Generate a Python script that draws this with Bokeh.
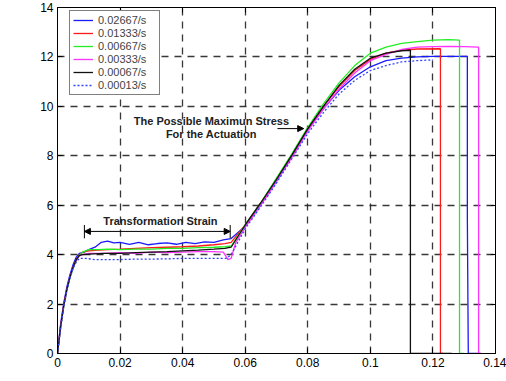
from math import pi

from bokeh.plotting import figure
from bokeh.models import (Arrow, NormalHead, Label, LinearAxis, FixedTicker,
                          Legend, LegendItem)
from bokeh.embed import file_html
from bokeh.resources import INLINE

# ---- stress-strain curves (stress in 100 MPa) ----
rate_labels = ["0.02667/s", "0.01333/s", "0.00667/s", "0.00333/s", "0.00067/s", "0.00013/s"]

strain_a = [0, 0.001, 0.002, 0.003, 0.004, 0.005, 0.006, 0.007, 0.0085, 0.010, 0.012, 0.014,
            0.016, 0.018, 0.020, 0.023, 0.026, 0.029, 0.032, 0.035, 0.038, 0.041, 0.044,
            0.047, 0.050, 0.053, 0.0555, 0.060, 0.065, 0.070, 0.075, 0.080, 0.085, 0.090,
            0.095, 0.100, 0.105, 0.110, 0.115, 0.120, 0.125, 0.131, 0.131, 0.1313, 0.1352]
stress_a = [0, 1.2, 2.05, 2.7, 3.2, 3.6, 3.9, 4.05, 4.1, 4.2, 4.3, 4.5,
            4.55, 4.48, 4.5, 4.42, 4.5, 4.4, 4.45, 4.48, 4.42, 4.5, 4.45,
            4.52, 4.5, 4.6, 4.65, 5.15, 6.05, 7.0, 8.0, 9.05, 9.9, 10.65,
            11.2, 11.6, 11.85, 11.95, 12.0, 12.02, 12.02, 12.02, 5.5, 0, 0]

strain_b = [0, 0.001, 0.002, 0.003, 0.004, 0.005, 0.006, 0.007, 0.008, 0.010, 0.013, 0.016,
            0.020, 0.025, 0.030, 0.035, 0.040, 0.045, 0.050, 0.0535, 0.0555, 0.060, 0.065,
            0.070, 0.075, 0.080, 0.085, 0.090, 0.095, 0.100, 0.105, 0.110, 0.115, 0.1224,
            0.1224, 0.1232]
stress_b = [0, 1.1, 1.95, 2.6, 3.1, 3.5, 3.8, 4.0, 4.1, 4.15, 4.18, 4.2,
            4.22, 4.25, 4.28, 4.3, 4.32, 4.35, 4.4, 4.45, 4.5, 5.2, 6.1,
            7.05, 8.05, 9.1, 10.0, 10.8, 11.45, 11.9, 12.15, 12.27, 12.32, 12.33,
            0, 0]

strain_c = [0, 0.001, 0.002, 0.003, 0.004, 0.005, 0.006, 0.007, 0.008, 0.010, 0.013, 0.016,
            0.020, 0.025, 0.030, 0.035, 0.040, 0.045, 0.050, 0.0535, 0.0555, 0.060, 0.065,
            0.070, 0.075, 0.080, 0.085, 0.090, 0.095, 0.100, 0.105, 0.110, 0.115, 0.120,
            0.125, 0.1285, 0.1285, 0.1300]
stress_c = [0, 1.05, 1.9, 2.55, 3.05, 3.45, 3.75, 3.98, 4.1, 4.2, 4.2, 4.22,
            4.2, 4.22, 4.22, 4.25, 4.25, 4.28, 4.3, 4.32, 4.35, 5.2, 6.1,
            7.1, 8.1, 9.15, 10.1, 10.95, 11.65, 12.15, 12.4, 12.55, 12.62, 12.68,
            12.7, 12.68, 0, 0]

strain_d = [0, 0.001, 0.002, 0.003, 0.004, 0.005, 0.006, 0.007, 0.008, 0.010, 0.015, 0.020,
            0.025, 0.030, 0.035, 0.040, 0.045, 0.050, 0.053, 0.0545, 0.0555, 0.057, 0.060,
            0.065, 0.070, 0.075, 0.080, 0.085, 0.090, 0.095, 0.100, 0.105, 0.110, 0.115,
            0.120, 0.125, 0.130, 0.1346, 0.1346, 0.1355]
stress_d = [0, 1.1, 1.95, 2.6, 3.1, 3.5, 3.78, 3.95, 4.0, 4.05, 4.05, 4.08,
            4.05, 4.1, 4.08, 4.1, 4.12, 4.12, 4.1, 3.8, 3.85, 4.5, 5.1,
            6.0, 6.95, 7.95, 9.0, 9.9, 10.7, 11.35, 11.85, 12.1, 12.3, 12.4,
            12.42, 12.43, 12.42, 12.4, 0, 0]

strain_e = [0, 0.001, 0.002, 0.003, 0.004, 0.005, 0.006, 0.007, 0.008, 0.010, 0.015, 0.020,
            0.025, 0.030, 0.035, 0.040, 0.045, 0.050, 0.0535, 0.0555, 0.060, 0.065, 0.070,
            0.075, 0.080, 0.085, 0.090, 0.095, 0.100, 0.105, 0.110, 0.1128, 0.1128, 0.1260]
stress_e = [0, 1.1, 1.95, 2.6, 3.1, 3.5, 3.8, 3.97, 4.0, 4.02, 4.05, 4.05,
            4.08, 4.1, 4.12, 4.15, 4.18, 4.22, 4.25, 4.3, 5.2, 6.1, 7.05,
            8.05, 9.1, 10.0, 10.85, 11.5, 11.95, 12.15, 12.25, 12.27, 0, 0]

strain_f = [0, 0.001, 0.002, 0.003, 0.004, 0.005, 0.006, 0.007, 0.009, 0.012, 0.016, 0.020,
            0.025, 0.030, 0.035, 0.040, 0.045, 0.050, 0.054, 0.0555, 0.060, 0.065, 0.070,
            0.075, 0.080, 0.085, 0.090, 0.095, 0.100, 0.105, 0.110, 0.115, 0.120]
stress_f = [0, 1.0, 1.9, 2.55, 3.05, 3.45, 3.7, 3.85, 3.85, 3.8, 3.8, 3.8,
            3.82, 3.82, 3.83, 3.85, 3.85, 3.85, 3.85, 4.0, 5.05, 5.95, 6.9,
            7.9, 8.9, 9.75, 10.5, 11.05, 11.45, 11.65, 11.8, 11.85, 11.88]

x_ticks = [0, 0.02, 0.04, 0.06, 0.08, 0.10, 0.12, 0.14]
x_tick_labels = ["0", "0.02", "0.04", "0.06", "0.08", "0.1", "0.12", "0.14"]
y_ticks = [0, 2, 4, 6, 8, 10, 12, 14]
y_tick_labels = ["0", "2", "4", "6", "8", "10", "12", "14"]

FONT = "Liberation Sans"

p = figure(width=506, height=381, x_range=(0, 0.14), y_range=(0, 14),
           output_backend="svg", toolbar_location=None,
           min_border_left=57, min_border_right=11, min_border_top=7, min_border_bottom=28)
p.xaxis.visible = False
p.yaxis.visible = False
p.background_fill_color = "white"
p.border_fill_color = "white"
p.outline_line_color = "black"
p.outline_line_width = 1


def box_axis(axis, ticks, labels, show_labels):
    axis.ticker = FixedTicker(ticks=ticks)
    axis.major_label_overrides = {t: l for t, l in zip(ticks, labels)}
    axis.major_tick_in = 5
    axis.major_tick_out = 0
    axis.minor_tick_line_color = None
    axis.axis_line_color = "black"
    axis.major_tick_line_color = "black"
    axis.major_label_text_font = FONT
    axis.major_label_text_color = "black"
    if show_labels:
        axis.major_label_text_font_size = "12px"
        axis.major_label_standoff = 4
    else:
        axis.major_label_text_font_size = "0px"
        axis.major_label_standoff = 0


# box axes: labelled bottom/left, tick-only top/right
for loc, ticks, labels, show in [("below", x_ticks, x_tick_labels, True),
                                 ("above", x_ticks, x_tick_labels, False)]:
    ax = LinearAxis()
    box_axis(ax, ticks, labels, show)
    p.add_layout(ax, loc)
for loc, ticks, labels, show in [("left", y_ticks, y_tick_labels, True),
                                 ("right", y_ticks, y_tick_labels, False)]:
    ax = LinearAxis()
    box_axis(ax, ticks, labels, show)
    p.add_layout(ax, loc)

p.xgrid.ticker = FixedTicker(ticks=x_ticks)
p.ygrid.ticker = FixedTicker(ticks=y_ticks)
for g in (p.xgrid, p.ygrid):
    g.grid_line_color = "#222222"
    g.grid_line_dash = "7 6"
    g.grid_line_width = 1.3
    g.grid_line_alpha = 0.9

series = [
    (strain_a, stress_a, "#1a1aff", "solid"),
    (strain_b, stress_b, "#ff1a1a", "solid"),
    (strain_c, stress_c, "#22ee22", "solid"),
    (strain_d, stress_d, "#ff33ff", "solid"),
    (strain_e, stress_e, "#111111", "solid"),
    (strain_f, stress_f, "#3344ff", "2 2"),
]

items = []
for (xs, ys, col, dash), lab in zip(series, rate_labels):
    r = p.line(xs, ys, line_color=col, line_width=1.3, line_dash=dash)
    items.append(LegendItem(label=lab, renderers=[r]))

legend = Legend(items=items, location=(12, 258), orientation="vertical",
                label_text_font=FONT, label_text_font_size="11px",
                label_height=12, glyph_height=12, glyph_width=20,
                label_standoff=5, label_width=58, spacing=1, padding=3, margin=0,
                border_line_color="black", border_line_width=1,
                background_fill_color="white", background_fill_alpha=1.0)
p.add_layout(legend, "center")

# ---- annotations ----
head = dict(size=6, fill_color="black", line_color="black")
p.add_layout(Arrow(start=NormalHead(**head), end=NormalHead(**head),
                   x_start=0.0086, y_start=4.94, x_end=0.0552, y_end=4.94,
                   line_color="black", line_width=1))
for xv in (0.0086, 0.0552):
    p.segment(x0=[xv], y0=[4.66], x1=[xv], y1=[5.2], line_color="black", line_width=1)

p.add_layout(Label(x=0.0329, y=5.36, text="Transformation Strain", text_font=FONT,
                   text_font_size="11px", text_font_style="bold", text_align="center",
                   text_baseline="middle", text_color="#222222"))
p.add_layout(Label(x=0.0492, y=9.4, text="The Possible Maximun Stress", text_font=FONT,
                   text_font_size="11px", text_font_style="bold", text_align="center",
                   text_baseline="middle", text_color="#222222"))
p.add_layout(Label(x=0.0492, y=8.9, text="For the Actuation", text_font=FONT,
                   text_font_size="11px", text_font_style="bold", text_align="center",
                   text_baseline="middle", text_color="#222222"))
p.add_layout(Arrow(end=NormalHead(**head), x_start=0.0703, y_start=9.1,
                   x_end=0.0787, y_end=9.1, line_color="black", line_width=1))

# axis titles
p.add_layout(Label(x=-0.0144, y=6.6, text="Stress (100MPa)", text_font=FONT,
                   text_font_size="11px", angle=pi / 2, text_align="center",
                   text_baseline="middle", text_color="#333333"))
p.add_layout(Label(x=0.0697, y=-0.88, text="Strain", text_font=FONT,
                   text_font_size="11px", text_align="center",
                   text_baseline="top", text_color="#333333"))

open("out.html", "w").write(file_html(p, INLINE))
